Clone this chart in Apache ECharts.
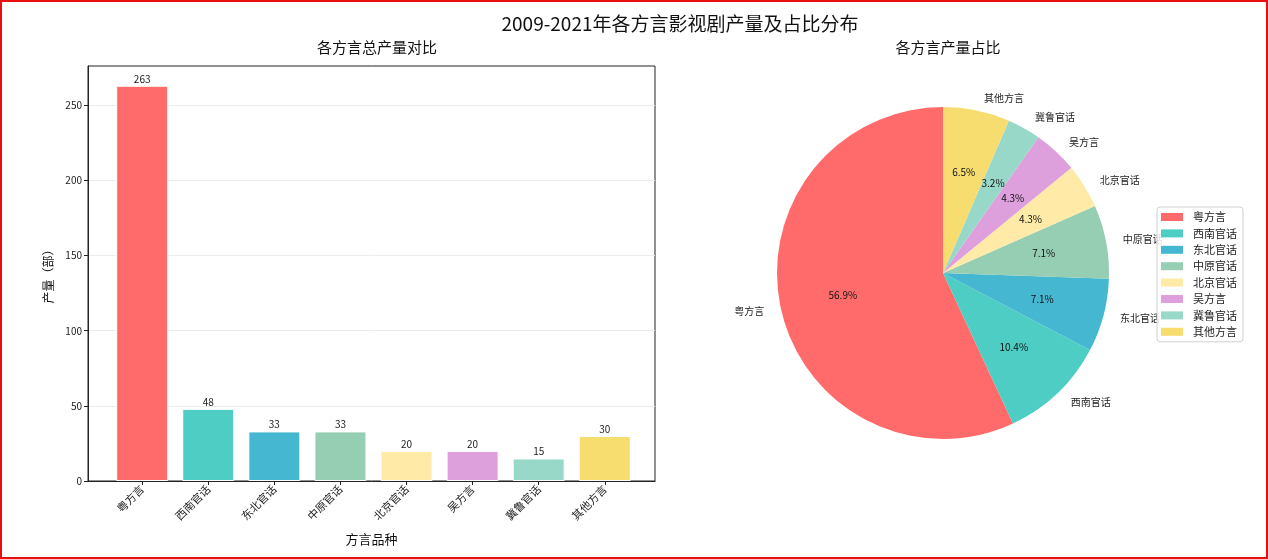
<!DOCTYPE html>
<html>
<head>
<meta charset="utf-8">
<script src="https://cdn.jsdelivr.net/npm/echarts@6.0.0/dist/echarts.min.js"></script>
<style>
  html, body { margin: 0; padding: 0; background: #fff; }
  #main { position: absolute; left: 0; top: 0; width: 1268px; height: 559px; }
  #frame { position: absolute; left: 0; top: 0; width: 1268px; height: 559px; box-sizing: border-box;
           border: 2px solid #e8100f; pointer-events: none; z-index: 10; }
</style>
</head>
<body>
<div id="main"></div>
<div id="frame"></div>
<script>
// data
var categories = ['粤方言', '西南官话', '东北官话', '中原官话', '北京官话', '吴方言', '冀鲁官话', '其他方言'];
var counts = [263, 48, 33, 33, 20, 20, 15, 30];
var yTicks = [0, 50, 100, 150, 200, 250];
var palette = ['#FF6B6B', '#4ECDC4', '#45B7D1', '#96CEB4', '#FFEAA7', '#DDA0DD', '#98D8C8', '#F7DC6F'];

var font = '"Noto Sans CJK SC", "DejaVu Sans", sans-serif';
var tickIdx = categories.map(function (c, i) { return i; });
var total = counts.reduce(function (a, b) { return a + b; }, 0);

var barData = counts.map(function (v, i) {
    return { value: [i, v], itemStyle: { color: palette[i] } };
});
var pieData = categories.map(function (c, i) {
    return { name: c, value: counts[i], itemStyle: { color: palette[i] } };
});
var pieShadow = categories.map(function (c, i) {
    return { name: c, value: counts[i] };
});

var chartDom = document.getElementById('main');
var myChart = echarts.init(chartDom);
var option;

var R = 166;

option = {
    animation: false,
    textStyle: { fontFamily: font },
    title: [{
        text: '2009-2021年各方言影视剧产量及占比分布',
        left: 675, top: 9, textAlign: 'center',
        textStyle: { fontFamily: font, fontSize: 19, fontWeight: 'normal', color: '#111' }
    }, {
        text: '各方言总产量对比',
        left: 372, top: 35, textAlign: 'center',
        textStyle: { fontFamily: font, fontSize: 15, fontWeight: 'normal', color: '#111' }
    }, {
        text: '各方言产量占比',
        left: 943, top: 35, textAlign: 'center',
        textStyle: { fontFamily: font, fontSize: 15, fontWeight: 'normal', color: '#111' }
    }],
    legend: {
        orient: 'vertical',
        left: 1157, top: 207,
        data: categories,
        icon: 'rect',
        itemWidth: 22, itemHeight: 8, itemGap: 2.4,
        padding: [3, 6, 3, 4],
        borderColor: '#d0d0d0', borderWidth: 1, borderRadius: 3,
        backgroundColor: 'rgba(255,255,255,0.85)',
        textStyle: { fontFamily: font, fontSize: 11, color: '#222', lineHeight: 14, padding: [0, 0, 0, 5] }
    },
    grid: {
        left: 88, right: 613, top: 66, bottom: 78,
        show: true, borderColor: '#222', borderWidth: 1, backgroundColor: 'transparent'
    },
    xAxis: {
        type: 'value',
        min: -0.82, max: 7.76,
        name: '方言品种',
        nameLocation: 'middle',
        nameGap: 52,
        nameTextStyle: { fontFamily: font, fontSize: 13, color: '#111' },
        axisLine: { show: true, onZero: false, lineStyle: { color: '#222' } },
        axisTick: { show: true, length: 4, lineStyle: { color: '#222' }, customValues: tickIdx },
        axisLabel: {
            rotate: 45, fontSize: 11, color: '#222', margin: 6,
            customValues: tickIdx,
            formatter: function (v) { return categories[v]; }
        },
        splitLine: { show: false }
    },
    yAxis: {
        type: 'value',
        min: 0, max: 276.15,
        name: '产量（部）',
        nameLocation: 'middle',
        nameGap: 34,
        nameTextStyle: { fontFamily: font, fontSize: 12, color: '#111' },
        axisLine: { show: true, onZero: false, lineStyle: { color: '#222' } },
        axisTick: { show: true, length: 4, lineStyle: { color: '#222' }, customValues: yTicks },
        axisLabel: { fontSize: 10, color: '#222', margin: 6, customValues: yTicks },
        splitLine: { show: true, lineStyle: { color: '#ebebeb', width: 1 } }
    },
    series: [{
        type: 'bar',
        data: barData,
        barWidth: 52,
        itemStyle: { borderColor: '#fff', borderWidth: 1 },
        label: { show: true, position: 'top', distance: 2, fontSize: 10, color: '#222',
                 formatter: function (p) { return p.value[1]; } }
    }, {
        type: 'pie',
        center: [943, 273],
        radius: [0, R],
        startAngle: 90,
        clockwise: false,
        avoidLabelOverlap: false,
        data: pieData,
        label: { show: true, position: 'outside', fontSize: 10, color: '#222', fontFamily: font },
        labelLine: { show: false, length: 12, length2: 0 },
        emphasis: { disabled: true }
    }, {
        type: 'pie',
        center: [943, 273],
        radius: [R * 0.2, R],
        startAngle: 90,
        clockwise: false,
        silent: true,
        avoidLabelOverlap: false,
        data: pieShadow,
        itemStyle: { color: 'rgba(0,0,0,0)' },
        label: { show: true, position: 'inner', fontSize: 10, color: '#111', fontFamily: font,
                 formatter: function (p) { return (p.value / total * 100).toFixed(1) + '%'; } },
        labelLine: { show: false },
        emphasis: { disabled: true }
    }]
};

option && myChart.setOption(option);
</script>
</body>
</html>
